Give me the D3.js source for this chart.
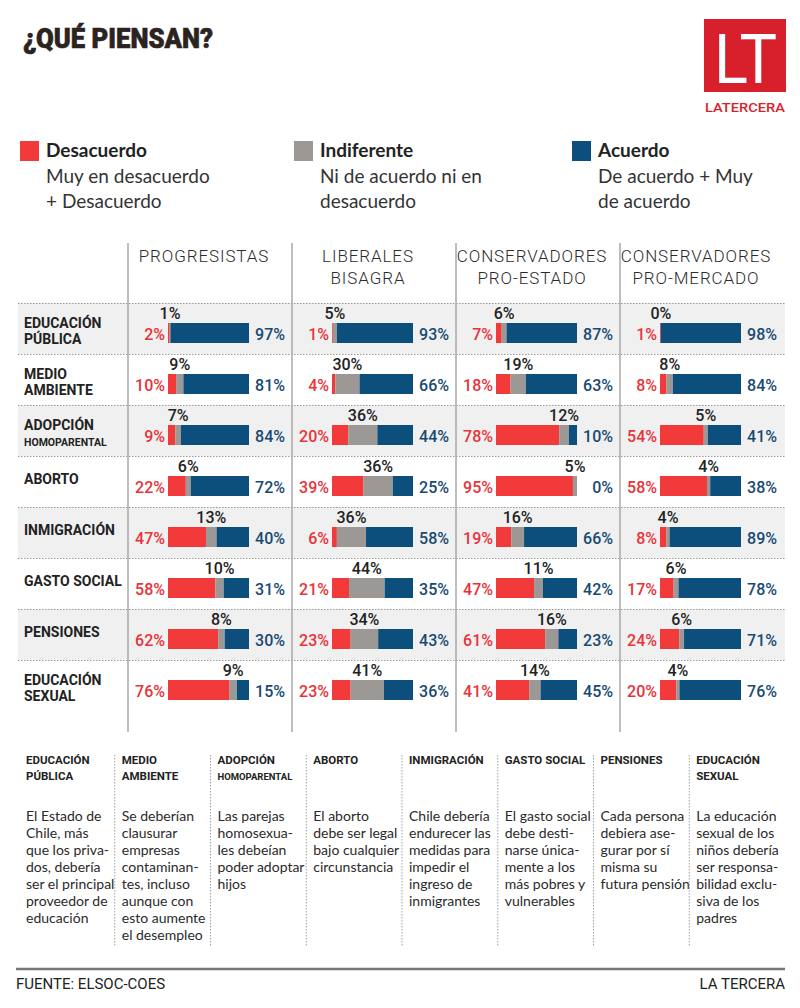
<!DOCTYPE html>
<html>
<head>
<meta charset="utf-8">
<script src="https://cdn.jsdelivr.net/npm/d3@7"></script>
<style>
  html, body { margin: 0; padding: 0; background: #fff; }
  svg { display: block; }
</style>
</head>
<body>
<svg id="chart" width="800" height="1008"></svg>
<script>
// ---------- DATA ----------
const groups = ["PROGRESISTAS", "LIBERALES BISAGRA", "CONSERVADORES PRO-ESTADO", "CONSERVADORES PRO-MERCADO"];
const groupLines = [["PROGRESISTAS"], ["LIBERALES", "BISAGRA"], ["CONSERVADORES", "PRO-ESTADO"], ["CONSERVADORES", "PRO-MERCADO"]];
const categories = ["EDUCACIÓN PÚBLICA", "MEDIO AMBIENTE", "ADOPCIÓN HOMOPARENTAL", "ABORTO", "INMIGRACIÓN", "GASTO SOCIAL", "PENSIONES", "EDUCACIÓN SEXUAL"];
const categoryLines = [["EDUCACIÓN", "PÚBLICA"], ["MEDIO", "AMBIENTE"], ["ADOPCIÓN", "HOMOPARENTAL"], ["ABORTO"], ["INMIGRACIÓN"], ["GASTO SOCIAL"], ["PENSIONES"], ["EDUCACIÓN", "SEXUAL"]];
// values per group (rows in category order)
const desacuerdo = [
  [2, 10, 9, 22, 47, 58, 62, 76],
  [1, 4, 20, 39, 6, 21, 23, 23],
  [7, 18, 78, 95, 19, 47, 61, 41],
  [1, 8, 54, 58, 8, 17, 24, 20]
];
const indiferente = [
  [1, 9, 7, 6, 13, 10, 8, 9],
  [5, 30, 36, 36, 36, 44, 34, 41],
  [6, 19, 12, 5, 16, 11, 16, 14],
  [0, 8, 5, 4, 4, 6, 6, 4]
];
const acuerdo = [
  [97, 81, 84, 72, 40, 31, 30, 15],
  [93, 66, 44, 25, 58, 35, 43, 36],
  [87, 63, 10, 0, 66, 42, 23, 45],
  [98, 84, 41, 38, 89, 78, 71, 76]
];
const legendKeys = ["Desacuerdo", "Indiferente", "Acuerdo"];
const legendDesc = [["Muy en desacuerdo", "+ Desacuerdo"], ["Ni de acuerdo ni en", "desacuerdo"], ["De acuerdo + Muy", "de acuerdo"]];
const defHeads = [["EDUCACIÓN", "PÚBLICA"], ["MEDIO", "AMBIENTE"], ["ADOPCIÓN", "HOMOPARENTAL"], ["ABORTO"], ["INMIGRACIÓN"], ["GASTO SOCIAL"], ["PENSIONES"], ["EDUCACIÓN", "SEXUAL"]];
const defTexts = [
  ["El Estado de", "Chile, más", "que los priva-", "dos, debería", "ser el principal", "proveedor de", "educación"],
  ["Se deberían", "clausurar", "empresas", "contaminan-", "tes, incluso", "aunque con", "esto aumente", "el desempleo"],
  ["Las parejas", "homosexua-", "les debeían", "poder adoptar", "hijos"],
  ["El aborto", "debe ser legal", "bajo cualquier", "circunstancia"],
  ["Chile debería", "endurecer las", "medidas para", "impedir el", "ingreso de", "inmigrantes"],
  ["El gasto social", "debe desti-", "narse única-", "mente a los", "más pobres y", "vulnerables"],
  ["Cada persona", "debiera ase-", "gurar por sí", "misma su", "futura pensión"],
  ["La educación", "sexual de los", "niños debería", "ser responsa-", "bilidad exclu-", "siva de los", "padres"]
];

// ---------- STYLE ----------
const colors = { bar: ["#f23a3a", "#9c9895", "#0d4f7c"], label: ["#e8333a", "#222222", "#174a72"] };
const numFont = "Roboto, 'DejaVu Sans', sans-serif";
const textFont = "Lato, 'Noto Sans', sans-serif";

const svg = d3.select("#chart");

// ---------- HEADER ----------
svg.append("text").attr("x", 23).attr("y", 48)
  .attr("font-family", numFont).attr("font-weight", 900).attr("font-size", 27)
  .attr("fill", "#2b231f").attr("textLength", 190).attr("lengthAdjust", "spacingAndGlyphs")
  .attr("stroke", "#2b231f").attr("stroke-width", 0.6)
  .text("¿QUÉ PIENSAN?");

const logo = svg.append("g");
logo.append("rect").attr("x", 704).attr("y", 19).attr("width", 82).attr("height", 73).attr("fill", "#d81f2c");
logo.append("text").attr("x", 714).attr("y", 83)
  .attr("font-family", numFont).attr("font-weight", 400).attr("font-size", 68)
  .attr("fill", "#fff").attr("textLength", 63).attr("lengthAdjust", "spacingAndGlyphs")
  .text("LT");
logo.append("text").attr("x", 705).attr("y", 112)
  .attr("font-family", numFont).attr("font-weight", 500).attr("font-size", 13)
  .attr("fill", "#d81f2c").attr("textLength", 80).attr("lengthAdjust", "spacingAndGlyphs")
  .text("LATERCERA");

// ---------- LEGEND ----------
const legendX = d3.scaleOrdinal().domain(legendKeys).range([20, 294, 572]);
const lg = svg.append("g").selectAll("g").data(legendKeys).join("g")
  .attr("transform", d => `translate(${legendX(d)},0)`);
lg.append("rect").attr("x", 0).attr("y", 141).attr("width", 19).attr("height", 20)
  .attr("fill", (d, i) => colors.bar[i]);
lg.append("text").attr("x", 26).attr("y", 157)
  .attr("font-family", textFont).attr("font-weight", 700).attr("font-size", 19)
  .attr("fill", "#222").text(d => d);
lg.each(function(d, i) {
  d3.select(this).selectAll("text.desc").data(legendDesc[i]).join("text")
    .attr("class", "desc").attr("x", 26).attr("y", (t, j) => 183 + j * 25)
    .attr("font-family", textFont).attr("font-weight", 400).attr("font-size", 19)
    .attr("fill", "#333").text(t => t);
});

// ---------- SCALES ----------
const colBand = d3.scaleBand().domain(groups).range([128, 784]).padding(0);
const rowBand = d3.scaleBand().domain(categories).range([303, 711]).padding(0);
const barW = 81, barH = 20;

// row backgrounds
svg.append("g").selectAll("rect").data(categories).join("rect")
  .attr("x", 18).attr("width", 767)
  .attr("y", d => rowBand(d)).attr("height", rowBand.bandwidth())
  .attr("fill", (d, i) => i % 2 === 0 ? "#f0f0f0" : "#ffffff");

// dotted separators
svg.append("g").selectAll("line").data(categories).join("line")
  .attr("x1", 18).attr("x2", 785)
  .attr("y1", d => rowBand(d) + 0.5).attr("y2", d => rowBand(d) + 0.5)
  .attr("stroke", "#9a9a9a").attr("stroke-width", 1).attr("stroke-dasharray", "1.5,1.5");

// vertical column lines
svg.append("g").selectAll("line").data(groups).join("line")
  .attr("x1", d => colBand(d)).attr("x2", d => colBand(d))
  .attr("y1", 243).attr("y2", 732)
  .attr("stroke", "#a8a8a8").attr("stroke-width", 1.5);

// column headers
groups.forEach((g, gi) => {
  svg.append("g").selectAll("text").data(groupLines[gi]).join("text")
    .attr("x", colBand(g) + 76).attr("y", (t, j) => 262 + j * 22)
    .attr("text-anchor", "middle")
    .attr("font-family", numFont).attr("font-weight", 300).attr("font-size", 17)
    .attr("letter-spacing", 0.9).attr("fill", "#2c2c2c").text(t => t);
});

// row labels
categories.forEach((c, ci) => {
  const lines = categoryLines[ci];
  const top = rowBand(c);
  svg.append("g").selectAll("text").data(lines).join("text")
    .attr("x", 24)
    .attr("y", (t, j) => lines.length === 1 ? top + 28 : top + 25 + j * 16)
    .attr("font-family", numFont).attr("font-weight", 700)
    .attr("font-size", t => t === "HOMOPARENTAL" ? 10.5 : 14)
    .attr("fill", "#222").text(t => t);
});

// bars
groups.forEach((g, gi) => {
  const x0 = colBand(g) + 40;
  const x = d3.scaleLinear().domain([0, 100]).range([x0, x0 + barW]);
  const gg = svg.append("g");
  categories.forEach((c, ci) => {
    const vals = [desacuerdo[gi][ci], indiferente[gi][ci], acuerdo[gi][ci]];
    const total = d3.sum(vals);
    const norm = vals.map(v => v / total * 100);
    const cum = d3.cumsum([0, ...norm]);
    const top = rowBand(c);
    const segs = norm.map((v, k) => ({ k, x0: cum[k], x1: cum[k + 1] }));
    gg.append("g").selectAll("rect").data(segs).join("rect")
      .attr("x", d => x(d.x0)).attr("width", d => Math.max(0, x(d.x1) - x(d.x0)))
      .attr("y", top + 20).attr("height", barH)
      .attr("fill", d => colors.bar[d.k]);
    // left label
    gg.append("text").attr("x", x(0) - 3).attr("y", top + 37)
      .attr("text-anchor", "end").attr("font-family", numFont).attr("font-weight", 500)
      .attr("font-size", 16).attr("fill", colors.label[0]).text(vals[0] + "%");
    // right label
    gg.append("text").attr("x", colBand(g) + 157).attr("y", top + 37)
      .attr("text-anchor", "end").attr("font-family", numFont).attr("font-weight", 500)
      .attr("font-size", 16).attr("fill", colors.label[2]).text(vals[2] + "%");
    // top label on grey segment
    gg.append("text").attr("x", x((cum[1] + cum[2]) / 2)).attr("y", top + 16)
      .attr("text-anchor", "middle").attr("font-family", numFont).attr("font-weight", 500)
      .attr("font-size", 16).attr("fill", colors.label[1]).text(vals[1] + "%");
  });
});

// ---------- DEFINITIONS ----------
const defBand = d3.scaleBand().domain(categories).range([19, 785]);
const dg = svg.append("g");
categories.forEach((c, ci) => {
  const x0 = defBand(c);
  if (ci > 0) {
    dg.append("line").attr("x1", x0).attr("x2", x0).attr("y1", 755).attr("y2", 947)
      .attr("stroke", "#a0a0a0").attr("stroke-width", 1).attr("stroke-dasharray", "1.5,1.5");
  }
  dg.append("g").selectAll("text").data(defHeads[ci]).join("text")
    .attr("x", x0 + 7).attr("y", (t, j) => 764 + j * 16)
    .attr("font-family", numFont).attr("font-weight", 700)
    .attr("font-size", t => t === "HOMOPARENTAL" ? 9.5 : 11.5)
    .attr("fill", "#222").text(t => t);
  dg.append("g").selectAll("text").data(defTexts[ci]).join("text")
    .attr("x", x0 + 7).attr("y", (t, j) => 821 + j * 17)
    .attr("font-family", textFont).attr("font-weight", 400).attr("font-size", 14)
    .attr("fill", "#2a2a2a").text(t => t);
});

// ---------- FOOTER ----------
svg.append("line").attr("x1", 16).attr("x2", 785).attr("y1", 969).attr("y2", 969)
  .attr("stroke", "#777").attr("stroke-width", 2.5);
svg.append("text").attr("x", 16).attr("y", 989)
  .attr("font-family", numFont).attr("font-size", 15).attr("fill", "#222")
  .text("FUENTE: ELSOC-COES");
svg.append("text").attr("x", 785).attr("y", 989).attr("text-anchor", "end")
  .attr("font-family", numFont).attr("font-size", 15).attr("fill", "#222")
  .text("LA TERCERA");
</script>
</body>
</html>
